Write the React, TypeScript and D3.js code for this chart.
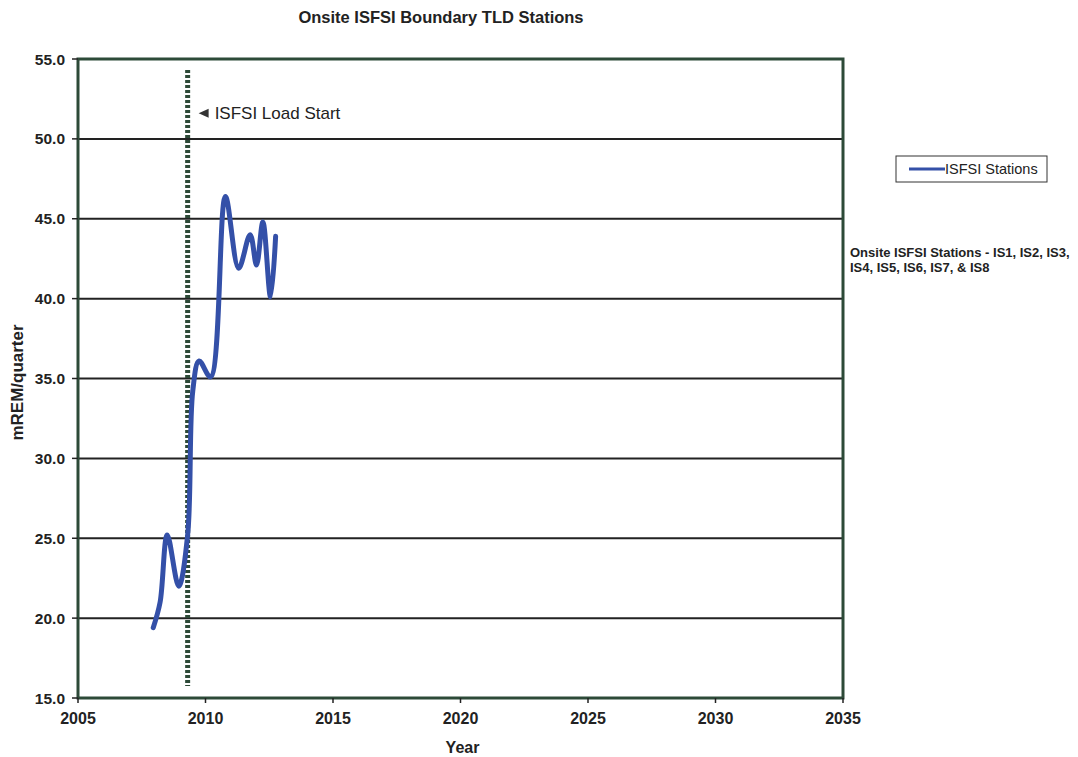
import React from 'react';
import * as d3 from 'd3';

// Quarterly dose readings (decimal year, mREM/quarter)
const years = [2007.95, 2008.22, 2008.5, 2008.95, 2009.3, 2009.5, 2009.75, 2010.2, 2010.78, 2011.3, 2011.75, 2012.0, 2012.25, 2012.55, 2012.75];
const doses = [19.4, 21.0, 25.2, 22.0, 25.2, 34.2, 36.1, 35.1, 46.4, 41.9, 44.0, 42.1, 44.8, 40.1, 43.9];

const xTicks = [2005, 2010, 2015, 2020, 2025, 2030, 2035];
const yTicks = [15, 20, 25, 30, 35, 40, 45, 50, 55];
const loadStartYear = 2009.3;

const W = 1078;
const H = 757;
const margin = { top: 59, right: 235, bottom: 59, left: 78 };

const FONT = '"Liberation Sans", Arial, sans-serif';
const BORDER = '#2d4a38';
const INK = '#222';

export default function App() {
  const x = d3.scaleLinear().domain([2005, 2035]).range([margin.left, W - margin.right]);
  const y = d3.scaleLinear().domain([15, 55]).range([H - margin.bottom, margin.top]);

  const pts = years.map((yr, i) => [yr, doses[i]] as [number, number]);
  const line = d3.line<[number, number]>()
    .x(d => x(d[0]))
    .y(d => y(d[1]))
    .curve(d3.curveCatmullRom.alpha(0.5));

  const x0 = x.range()[0];
  const x1 = x.range()[1];
  const y0 = y.range()[0];
  const y1 = y.range()[1];
  const lx = x(loadStartYear);

  return (
    <svg width={W} height={H} style={{ position: 'absolute', left: 0, top: 0, background: '#fff' }} fontFamily={FONT}>
      <text x={441} y={23} textAnchor="middle" fontSize={16.5} fontWeight="bold" fill={INK}>
        Onsite ISFSI Boundary TLD Stations
      </text>

      {/* horizontal grid */}
      {yTicks.slice(1, -1).map(t => (
        <line key={'g' + t} x1={x0} x2={x1} y1={y(t)} y2={y(t)} stroke={INK} strokeWidth={2} />
      ))}

      {/* load start marker */}
      <line x1={lx} x2={lx} y1={y1 + 11} y2={y0 - 12} stroke={BORDER} strokeWidth={5} strokeDasharray="3 2" />
      <path d={`M${lx + 11},${y(51.6)} l10,-4.5 l0,9 z`} fill="#333" />
      <text x={lx + 27} y={y(51.6) + 6} fontSize={17} fill={INK}>ISFSI Load Start</text>

      {/* data */}
      <path d={line(pts) ?? ''} fill="none" stroke="#3450a8" strokeWidth={5} strokeLinecap="round" strokeLinejoin="round" />

      {/* plot frame */}
      <rect x={x0} y={y1} width={x1 - x0} height={y0 - y1} fill="none" stroke={BORDER} strokeWidth={3} />

      {/* y axis */}
      {yTicks.map(t => (
        <g key={'y' + t}>
          <line x1={x0 - 6} x2={x0} y1={y(t)} y2={y(t)} stroke={INK} strokeWidth={1.5} />
          <text x={x0 - 13} y={y(t) + 5.5} textAnchor="end" fontSize={15.5} fontWeight="bold" fill={INK}>
            {t.toFixed(1)}
          </text>
        </g>
      ))}
      <text transform={`translate(23,${(y0 + y1) / 2 + 4}) rotate(-90)`} textAnchor="middle" fontSize={17} fontWeight="bold" fill={INK}>
        mREM/quarter
      </text>

      {/* x axis */}
      {xTicks.map(t => (
        <g key={'x' + t}>
          <line x1={x(t)} x2={x(t)} y1={y0} y2={y0 + 5} stroke={INK} strokeWidth={1.5} />
          <text x={x(t)} y={y0 + 26} textAnchor="middle" fontSize={16} fontWeight="bold" fill={INK}>
            {t}
          </text>
        </g>
      ))}
      <text x={(x0 + x1) / 2 + 2} y={753} textAnchor="middle" fontSize={16} fontWeight="bold" fill={INK}>Year</text>

      {/* legend */}
      <rect x={896} y={156} width={151} height={26} fill="#fff" stroke="#333" strokeWidth={1} />
      <line x1={909} x2={945} y1={169} y2={169} stroke="#3450a8" strokeWidth={3} />
      <text x={945} y={174} fontSize={14.5} fill={INK}>ISFSI Stations</text>

      <text fontSize={13} fontWeight="bold" fill={INK}>
        <tspan x={850} y={257}>Onsite ISFSI Stations - IS1, IS2, IS3,</tspan>
        <tspan x={850} y={272}>IS4, IS5, IS6, IS7, &amp; IS8</tspan>
      </text>
    </svg>
  );
}
